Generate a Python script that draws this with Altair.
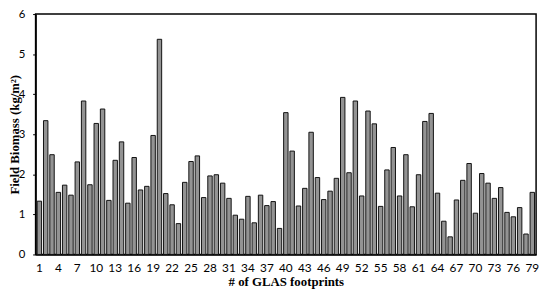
import altair as alt
import pandas as pd

footprints = list(range(1, 80))
biomass = [
    1.33, 3.34, 2.49, 1.55, 1.73, 1.48, 2.31, 3.83, 1.74, 3.27,
    3.63, 1.35, 2.35, 2.81, 1.28, 2.42, 1.61, 1.70, 2.97, 5.37,
    1.52, 1.24, 0.77, 1.80, 2.32, 2.46, 1.42, 1.96, 1.99, 1.78,
    1.40, 0.98, 0.88, 1.45, 0.79, 1.48, 1.22, 1.32, 0.65, 3.54,
    2.58, 1.21, 1.65, 3.05, 1.92, 1.37, 1.58, 1.90, 3.92, 2.04,
    3.83, 1.46, 3.58, 3.26, 1.20, 2.11, 2.67, 1.46, 2.49, 1.19,
    1.99, 3.32, 3.52, 1.53, 0.83, 0.44, 1.36, 1.85, 2.27, 1.03,
    2.02, 1.78, 1.40, 1.67, 1.05, 0.94, 1.17, 0.51, 1.55,
]
tick_labels = list(range(1, 80, 3))

df = pd.DataFrame({"n": footprints, "b": biomass})

label_font = "Lato"
title_font = "Liberation Serif"

chart = (
    alt.Chart(df)
    .mark_bar(fill="#939393", stroke="#111111", strokeWidth=1)
    .encode(
        x=alt.X(
            "n:O",
            title="# of GLAS footprints",
            scale=alt.Scale(paddingInner=0.3, paddingOuter=0.25),
            axis=alt.Axis(
                values=tick_labels,
                labelAngle=0,
                ticks=False,
                labelPadding=8,
                labelFont=label_font,
                labelFontSize=12,
                labelColor="#000",
                titleFont=title_font,
                titleFontSize=13,
                titleFontWeight="bold",
                titleColor="#000",
                titlePadding=3,
                domainColor="#000",
                domainWidth=1.5,
            ),
        ),
        y=alt.Y(
            "b:Q",
            title="Field Biomass (kg/m²)",
            scale=alt.Scale(domain=[0, 6]),
            axis=alt.Axis(
                values=[0, 1, 2, 3, 4, 5, 6],
                grid=False,
                tickSize=3,
                tickColor="#000",
                labelPadding=8,
                labelFont=label_font,
                labelFontSize=11.5,
                labelColor="#000",
                titleFont=title_font,
                titleFontSize=13,
                titleFontWeight="bold",
                titleColor="#000",
                titleX=-14,
                titleY=122,
                titleAngle=270,
                titleBaseline="bottom",
                domainColor="#000",
                domainWidth=1.5,
            ),
        ),
    )
    .properties(
        width=508,
        height=244,
        autosize=alt.AutoSizeParams(type="none"),
        padding={"left": 28, "top": 4, "right": 6, "bottom": 40},
    )
    .configure_view(stroke="#000", strokeWidth=1.5)
)

chart.save("out.html", embed_options={"renderer": "svg", "actions": False})
